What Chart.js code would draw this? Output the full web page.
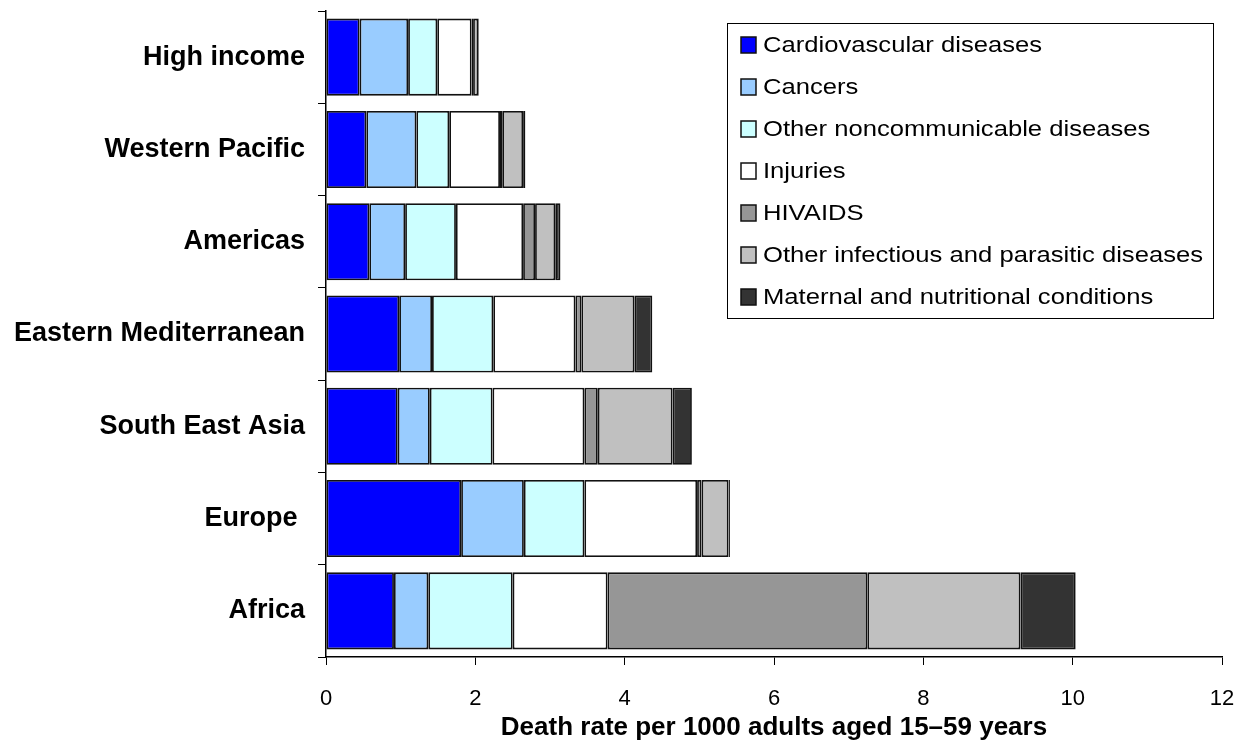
<!DOCTYPE html>
<html>
<head>
<meta charset="utf-8">
<script src="https://cdn.jsdelivr.net/npm/chart.js@4/dist/chart.umd.min.js"></script>
<style>
html,body{margin:0;padding:0;background:#fff;}
#wrap{width:1247px;height:745px;position:relative;}
</style>
</head>
<body>
<div id="wrap"><canvas id="c" width="1247" height="745"></canvas></div>
<script>
const regions = ["High income", "Western Pacific", "Americas", "Eastern Mediterranean", "South East Asia", "Europe ", "Africa"];
const cardiovascular = [0.45, 0.54, 0.58, 0.98, 0.96, 1.81, 0.91];
const cancers        = [0.65, 0.67, 0.48, 0.44, 0.43, 0.84, 0.46];
const otherNCD       = [0.39, 0.44, 0.68, 0.82, 0.84, 0.81, 1.13];
const injuries       = [0.46, 0.68, 0.90, 1.10, 1.23, 1.51, 1.27];
const hivaids        = [0.02, 0.03, 0.16, 0.08, 0.18, 0.06, 3.48];
const otherInfectious= [0.07, 0.28, 0.27, 0.71, 1.00, 0.36, 2.05];
const maternal       = [0.01, 0.03, 0.07, 0.24, 0.26, 0.02, 0.74];
const xTicks = [0, 2, 4, 6, 8, 10, 12];

const seriesNames = ["Cardiovascular diseases","Cancers","Other noncommunicable diseases","Injuries","HIVAIDS","Other infectious and parasitic diseases","Maternal and nutritional conditions"];
const seriesData = [cardiovascular, cancers, otherNCD, injuries, hivaids, otherInfectious, maternal];
const seriesColors = ["#0000FF","#99CCFF","#CCFFFF","#FFFFFF","#969696","#C0C0C0","#333333"];

const FONT = "'Liberation Sans', Arial, sans-serif";

const legendPlugin = {
  id: 'boxLegend',
  afterDraw(chart) {
    const ctx = chart.ctx;
    ctx.save();
    const x0 = 727.5, y0 = 23.5, w = 486, h = 295;
    ctx.fillStyle = '#fff';
    ctx.fillRect(x0, y0, w, h);
    ctx.strokeStyle = '#000';
    ctx.lineWidth = 1;
    ctx.strokeRect(x0, y0, w, h);
    ctx.font = '22px ' + FONT;
    const longest = Math.max(...chart.data.datasets.map(d => ctx.measureText(d.label).width));
    const sx = 440 / longest;
    chart.data.datasets.forEach((ds, i) => {
      const cy = 45 + 42 * i;
      ctx.fillStyle = ds.backgroundColor;
      ctx.fillRect(741, cy - 8, 15, 16);
      ctx.lineWidth = 1.5;
      ctx.strokeStyle = '#111';
      ctx.strokeRect(741, cy - 8, 15, 16);
      ctx.save();
      ctx.translate(763, cy + 1);
      ctx.scale(sx, 1);
      ctx.fillStyle = '#000';
      ctx.font = '22px ' + FONT;
      ctx.textBaseline = 'middle';
      ctx.textAlign = 'left';
      ctx.fillText(ds.label, 0, 0);
      ctx.restore();
    });
    ctx.restore();
  }
};

new Chart(document.getElementById('c'), {
  type: 'bar',
  data: {
    labels: regions,
    datasets: seriesNames.map((n, i) => ({
      label: n,
      data: seriesData[i],
      backgroundColor: seriesColors[i],
      borderColor: '#111',
      borderWidth: 1.8,
      borderSkipped: false,
      barPercentage: 0.835,
      categoryPercentage: 1.0
    }))
  },
  options: {
    indexAxis: 'y',
    responsive: false,
    animation: false,
    layout: { padding: { top: 11, right: 25, left: 0, bottom: 0 } },
    plugins: { legend: { display: false }, tooltip: { enabled: false } },
    scales: {
      x: {
        stacked: true,
        min: 0, max: 12,
        afterBuildTicks(scale) { scale.ticks = xTicks.map(v => ({ value: v })); },
        grid: { drawOnChartArea: false, tickLength: 8, color: '#000', lineWidth: 1 },
        border: { color: '#000', width: 1.5 },
        ticks: { color: '#000', font: { family: FONT, size: 22 }, padding: 21, maxRotation: 0 },
        title: { display: true, text: 'Death rate per 1000 adults aged 15\u201359 years', color: '#000',
                 font: { family: FONT, size: 26, weight: 'bold' }, padding: { top: 0, bottom: 2 } },
        afterFit(scale) { scale.height = 745 - 657; scale.paddingLeft = 0; scale.paddingRight = 0; }
      },
      y: {
        stacked: true,
        grid: { offset: true, drawOnChartArea: false, tickLength: 8, color: '#000', lineWidth: 1 },
        border: { color: '#000', width: 1.5 },
        ticks: { color: '#000', font: { family: FONT, size: 27, weight: 'bold' }, padding: 13 },
        afterFit(scale) { scale.width = 326; scale.paddingTop = 0; scale.paddingBottom = 0; }
      }
    }
  },
  plugins: [legendPlugin]
});
</script>
</body>
</html>
